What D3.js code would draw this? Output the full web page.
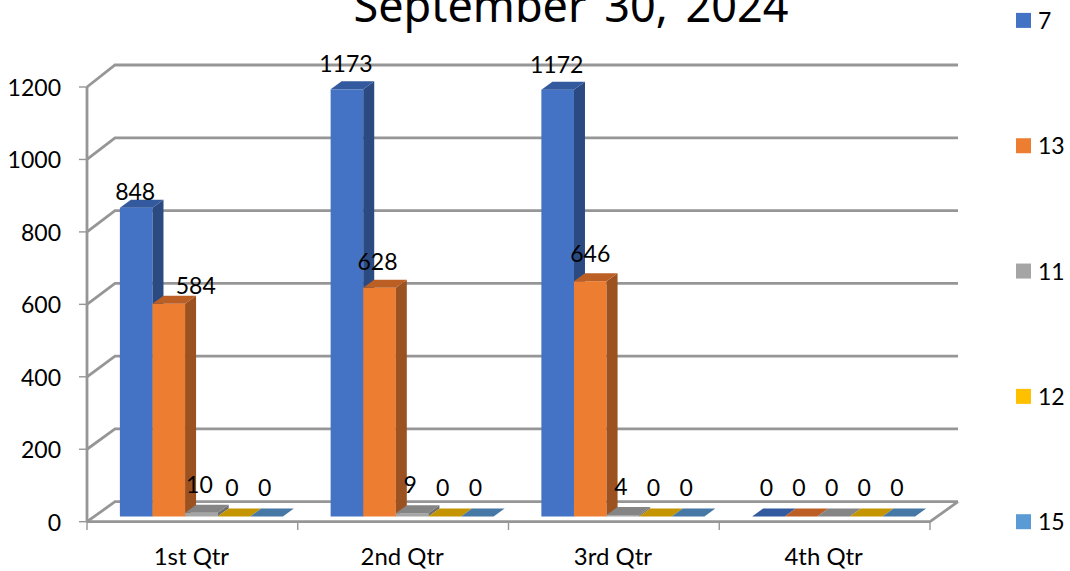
<!DOCTYPE html>
<html><head><meta charset="utf-8">
<script src="https://cdn.jsdelivr.net/npm/d3@7"></script>
<style>html,body{margin:0;padding:0;background:#fff}svg{display:block}text{fill:#000}</style>
</head><body><svg id="c" width="1070" height="571"></svg>
<script>
const categories=["1st Qtr","2nd Qtr","3rd Qtr","4th Qtr"];
const seriesNames=["7","13","11","12","15"];
const s7=[848,1173,1172,0];
const s13=[584,628,646,0];
const s11=[10,9,4,0];
const s12=[0,0,0,0];
const s15=[0,0,0,0];
const yTicks=[0,200,400,600,800,1000,1200];
const titleText="September 30, 2024";

const allSeries=[s7,s13,s11,s12,s15];
const colors=["#4472C4","#ED7D31","#A5A5A5","#FFC000","#5B9BD5"];
const sideColors=["#2C4A82","#9C5220","#6E6E6E","#A67C00","#3C6590"];
const topColors=["#335A9E","#BC5F25","#858585","#C49500","#4678A6"];

const svg=d3.select("#c");
const depth={dx:11,dy:-8};
const grid="#969696";
const yFront=d3.scaleLinear().domain([0,1200]).range([521.7,87]);
const yBack=d3.scaleLinear().domain([0,1200]).range([501.7,65]);
const xAxis=d3.scaleBand().domain(categories).range([87,930]);
const yBar=d3.scaleLinear().domain([0,1200]).range([516.5,79.5]);
const x0=d3.scaleBand().domain(categories).range([96,939]).paddingInner(0.2266).paddingOuter(0.1133);
const x1=d3.scaleBand().domain(seriesNames).range([0,x0.bandwidth()]);

function label(x,y,s,anchor,sx){
  svg.append("text").attr("transform",`translate(${x},${y}) scale(${sx||0.98},1)`)
    .attr("text-anchor",anchor||"middle").attr("dy","0.34em")
    .style("font-family","Lato,sans-serif").style("font-size","23.5px").text(s);
}

const g=svg.append("g").attr("fill","none").attr("stroke",grid).attr("stroke-width",2.8);
yTicks.forEach(t=>{
  g.append("path").attr("d",`M87,${yFront(t)}L115,${yBack(t)}L958,${yBack(t)}`);
});
g.append("path").attr("d",`M87,${yFront(0)}L930,${yFront(0)}L958,${yBack(0)}`);
g.append("path").attr("d",`M87,${yFront(0)}L87,${yFront(1200)}`);
const tk=svg.append("g").attr("stroke",grid).attr("stroke-width",1.4);
yTicks.forEach(t=>tk.append("line").attr("x1",79).attr("x2",87).attr("y1",yFront(t)).attr("y2",yFront(t)));
[...categories.map(c=>xAxis(c)),930].forEach(x=>tk.append("line").attr("x1",x).attr("x2",x).attr("y1",521.7).attr("y2",530));

categories.forEach((c,ci)=>{
  seriesNames.forEach((n,si)=>{
    const v=allSeries[si][ci];
    const x=x0(c)+x1(n),w=x1.bandwidth(),yt=yBar(v),yb=yBar(0);
    const b=svg.append("g");
    if(v>0){
      b.append("rect").attr("x",x).attr("y",yt).attr("width",w).attr("height",yb-yt).attr("fill",colors[si]);
      b.append("path").attr("fill",sideColors[si]).attr("d",`M${x+w},${yt}L${x+w+depth.dx},${yt+depth.dy}L${x+w+depth.dx},${yb+depth.dy}L${x+w},${yb}Z`);
    }
    b.append("path").attr("fill",topColors[si]).attr("d",`M${x},${yt}L${x+depth.dx},${yt+depth.dy}L${x+w+depth.dx},${yt+depth.dy}L${x+w},${yt}Z`);
  });
});

// data labels: offsets from each bar's top, placed by hand as in the reference
const nudge={"0-0":[-1,-16],"0-1":[27,-18],"1-0":[-1,-25],"1-1":[-2,-26],"2-0":[-1,-25],"2-1":[0,-27]};
categories.forEach((c,ci)=>{
  seriesNames.forEach((n,si)=>{
    const v=allSeries[si][ci];
    const nd=nudge[`${ci}-${si}`]||[-2,v>4?-28:-28.5];
    label(x0(c)+x1(n)+x1.bandwidth()/2+nd[0],yBar(v)+nd[1],v);
  });
});

yTicks.forEach(t=>label(61,yFront(t)+1,t,"end"));
categories.forEach(c=>label(xAxis(c)+xAxis.bandwidth()/2-1,557,c,"middle",1.02));

svg.append("text").attr("x",571).attr("y",22).attr("text-anchor","middle")
  .style("font-family","'Noto Sans',sans-serif").style("font-size","45px").style("word-spacing","6px").text(titleText);

const legY=d3.scalePoint().domain(seriesNames).range([20.4,521.7]);
seriesNames.forEach((n,i)=>{
  svg.append("rect").attr("x",1016).attr("y",legY(n)-7.5).attr("width",15).attr("height",15).attr("fill",colors[i]);
  label(1038,legY(n)+0.5,n,"start");
});
</script></body></html>
